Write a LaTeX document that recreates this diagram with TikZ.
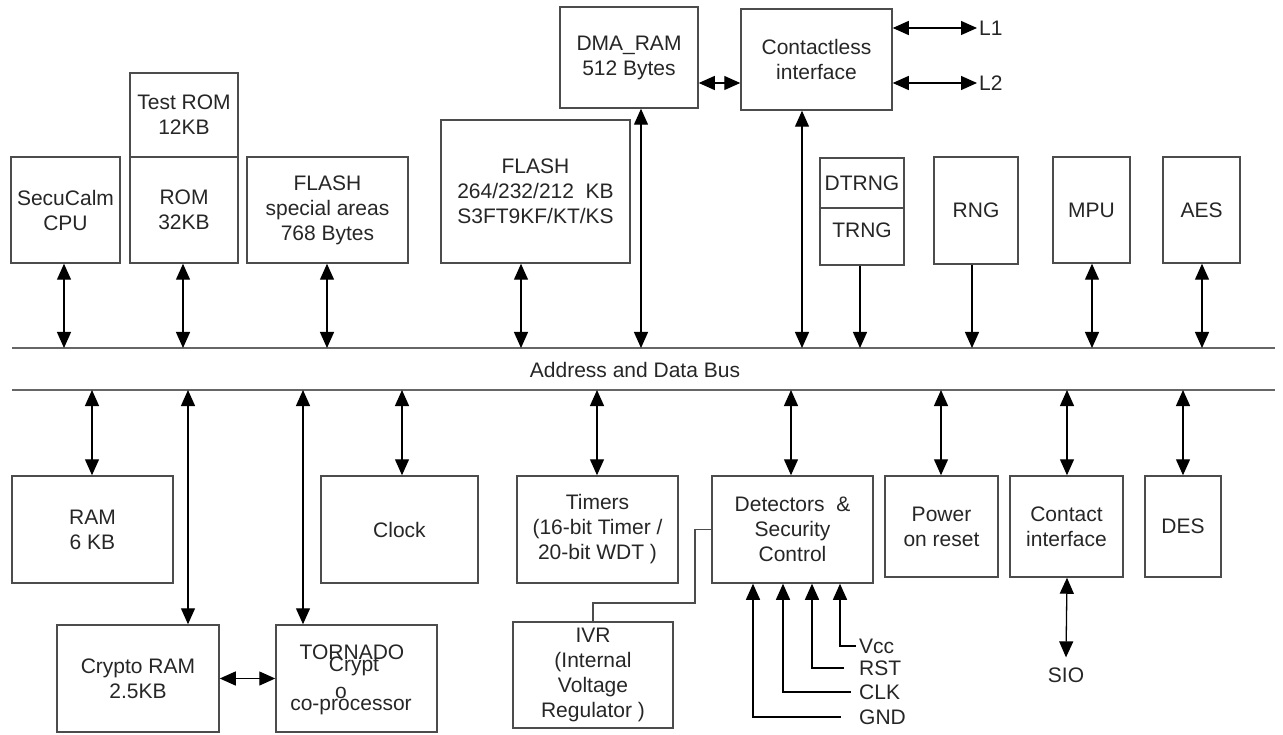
\documentclass[tikz,border=0pt]{standalone}
\usepackage{fontspec}
\setmainfont{Liberation Sans}
\usetikzlibrary{arrows.meta}
\newcommand\dfont{\fontsize{21}{25}\selectfont}
\tikzset{
  box/.style={draw=black!70, line width=1.5pt, inner sep=0pt, align=center, text=black!85, font=\dfont},
  wh/.style 2 args={minimum width=#1pt, minimum height=#2pt},
  txt/.style={inner sep=2pt, align=center, text=black!85, font=\dfont},
  dar/.style={{Triangle[length=16pt,width=14pt]}-{Triangle[length=16pt,width=14pt]}, line width=1.3pt},
  sar/.style={-{Triangle[length=16pt,width=14pt]}, line width=1.3pt},
  wire/.style={draw=black!70, line width=1.1pt},
  bus/.style={draw=black!60, line width=2.4pt}
}
\begin{document}
\begin{tikzpicture}[x=1pt,y=-1pt]
\useasboundingbox (0,0) rectangle (1283,735);
% top row
\node[box,wh={109}{106}] (cpu) at (65.5,210) {SecuCalm\\CPU};
\node[box,wh={108}{84}] (trom) at (184,115) {Test ROM\\12KB};
\node[box,wh={108}{106}] (rom) at (184,210) {ROM\\32KB};
\node[box,wh={161}{106}] (fsp) at (327.5,210) {FLASH\\special areas\\768 Bytes};
\node[box,wh={189}{143}] (flash) at (535.5,191.5) {FLASH\\264/232/212~ KB\\S3FT9KF/KT/KS};
\node[box,wh={138}{101}] (dma) at (629,57.5) {DMA\_RAM\\512 Bytes};
\node[box,wh={151}{101}] (cl) at (816.5,59.5) {Contactless\\interface};
\node[box,wh={84}{50}] (dtrng) at (862,183) {DTRNG};
\node[box,wh={84}{57}] (trng) at (862,236.5) {};
\node[txt] (trngt) at (862,230) {TRNG};
\node[box,wh={84}{107}] (rng) at (976,210.5) {RNG};
\node[box,wh={77}{106}] (mpu) at (1091.5,210) {MPU};
\node[box,wh={77}{106}] (aes) at (1201.5,210) {AES};
\node[txt,anchor=west] (l1) at (977,28) {L1};
\node[txt,anchor=west] (l2) at (977,83) {L2};
% bus
\coordinate (bt) at (0,348);
\coordinate (bb) at (0,390);
\draw[bus] (12,348) -- (1275,348);
\draw[bus] (12,390) -- (1275,390);
\node[txt] (busl) at (635,370) {Address and Data Bus};
% bottom row
\node[box,wh={161}{107}] (ram) at (92.5,529.5) {RAM\\6 KB};
\node[box,wh={157}{107}] (clock) at (399.5,529.5) {Clock};
\node[box,wh={161}{107}] (timers) at (597.5,529.5) {Timers\\(16-bit Timer /\\20-bit WDT )};
\node[box,wh={161}{107}] (det) at (792.5,529.5) {Detectors~ \&\\Security\\Control};
\node[box,wh={113}{101}] (por) at (941.5,526.5) {Power\\on reset};
\node[box,wh={113}{101}] (ci) at (1066.5,526.5) {Contact\\interface};
\node[box,wh={76}{101}] (des) at (1183,526.5) {DES};
\node[box,wh={162}{107}] (cram) at (138,678.5) {Crypto RAM\\2.5KB};
\node[box,wh={161}{107}] (torn) at (356.5,678.5) {};
\node[txt,anchor=base] (t1) at (352,659) {TORNADO};
\node[txt,anchor=base] (t2) at (354,671) {Crypt};
\node[txt,anchor=base] (t3) at (341,698) {o};
\node[txt,anchor=base] (t4) at (351,710) {co-processor};
\node[box,wh={160}{106}] (ivr) at (593,675) {IVR\\(Internal\\Voltage\\Regulator )};
\node[txt] (sio) at (1066,675) {SIO};
\node[txt,anchor=west,inner sep=1pt] (vcc) at (858,646) {Vcc};
\node[txt,anchor=west,inner sep=1pt] (rst) at (858,668) {RST};
\node[txt,anchor=west,inner sep=1pt] (clk) at (858,692) {CLK};
\node[txt,anchor=west,inner sep=1pt] (gnd) at (858,717) {GND};
% top connectors
\draw[dar] (64,0 |- cpu.south) -- (64,0 |- bt);
\draw[dar] (183,0 |- rom.south) -- (183,0 |- bt);
\draw[dar] (327,0 |- fsp.south) -- (327,0 |- bt);
\draw[dar] (521,0 |- flash.south) -- (521,0 |- bt);
\draw[dar] (641,0 |- dma.south) -- (641,0 |- bt);
\draw[dar] (802,0 |- cl.south) -- (802,0 |- bt);
\draw[sar] (860,0 |- trng.south) -- (860,0 |- bt);
\draw[sar] (972,0 |- rng.south) -- (972,0 |- bt);
\draw[dar] (1092,0 |- mpu.south) -- (1092,0 |- bt);
\draw[dar] (1202,0 |- aes.south) -- (1202,0 |- bt);
\draw[dar] (dma.east |- 0,83) -- (cl.west |- 0,83);
\draw[dar] (cl.east |- l1.west) -- (l1.west);
\draw[dar] (cl.east |- l2.west) -- (l2.west);
% bottom connectors
\draw[dar] (92,0 |- bb) -- (92,0 |- ram.north);
\draw[dar] (188,0 |- bb) -- (188,0 |- cram.north);
\draw[dar] (303,0 |- bb) -- (303,0 |- torn.north);
\draw[dar] (402,0 |- bb) -- (402,0 |- clock.north);
\draw[dar] (597,0 |- bb) -- (597,0 |- timers.north);
\draw[dar] (791,0 |- bb) -- (791,0 |- det.north);
\draw[dar] (941,0 |- bb) -- (941,0 |- por.north);
\draw[dar] (1067,0 |- bb) -- (1067,0 |- ci.north);
\draw[dar] (1183,0 |- bb) -- (1183,0 |- des.north);
\draw[dar] (cram.east) -- (torn.west);
\draw[dar] (1067,0 |- ci.south) -- ([yshift=8pt]sio.north);
\draw[wire] (ivr.north) |- (695,603) |- (det.west);
\draw[sar] ([xshift=-2pt]vcc.west) -| (840,0 |- det.south);
\draw[sar] ([xshift=-14pt]rst.west) -| (812,0 |- det.south);
\draw[sar] ([xshift=-7pt]clk.west) -| (783,0 |- det.south);
\draw[sar] ([xshift=-17pt]gnd.west) -| (753,0 |- det.south);
\end{tikzpicture}
\end{document}
